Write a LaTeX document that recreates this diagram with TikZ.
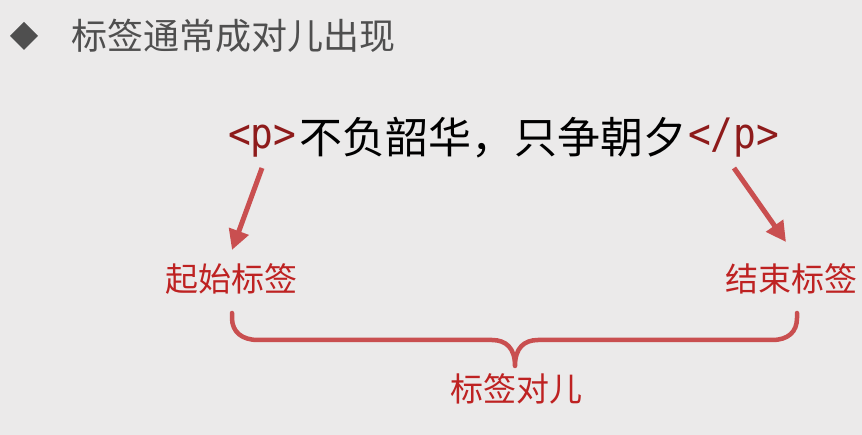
\documentclass[tikz,border=0pt]{standalone}
\usepackage{fontspec}
\newfontfamily\cjk{Noto Sans CJK SC}
\newfontfamily\codefont[FakeStretch=0.9]{DejaVu Sans Mono}
\usetikzlibrary{arrows.meta}
\definecolor{bg}{HTML}{EBEAEA}
\definecolor{titlegray}{HTML}{4F4F4F}
\definecolor{tagred}{HTML}{8E1B1B}
\definecolor{labelred}{HTML}{BE2222}
\definecolor{linered}{HTML}{C94F50}
\tikzset{
  title/.style={anchor=west, inner sep=0pt, text=titlegray, font=\cjk\fontsize{36}{42}\selectfont},
  code/.style={inner sep=0pt, text=tagred, font=\codefont\fontsize{42}{48}\selectfont},
  verse/.style={inner sep=0pt, text=black, font=\cjk\fontsize{43}{50}\selectfont},
  label/.style={inner sep=0pt, text=labelred, font=\cjk\fontsize{33}{39}\selectfont},
  pointer/.style={draw=linered, line width=5pt, -{Triangle[length=20pt,width=20pt]}},
  brace/.style={draw=linered, line width=4.5pt, line cap=round, line join=round},
}
\begin{document}
\begin{tikzpicture}[x=1pt,y=-1pt]
  \fill[bg] (0,0) rectangle (862,435);
  \useasboundingbox (0,0) rectangle (862,435);

  % heading with a diamond bullet
  \fill[titlegray] (10,36) -- (24,22) -- (38,36) -- (24,50) -- cycle;
  \node[title] (head) at (71,36) {标签通常成对儿出现};

  % the example element
  \node[code, anchor=base west] (open) at (228,149) {<p>};
  \node[verse, anchor=base west] (verse) at (299,154) {不负韶华，只争朝夕};
  \node[code, anchor=base west] (close) at (688,149) {</p>};

  % labels
  \node[label] (start) at (231,279) {起始标签};
  \node[label] (end) at (791,279) {结束标签};
  \node[label] (pair) at (516,389) {标签对儿};

  % pointers from the tags to their labels
  \coordinate (ostart) at (262,168);
  \coordinate (cstart) at (734,168);
  \coordinate (oend) at (232,250);
  \coordinate (cend) at (786,242);
  \draw[pointer] (ostart) -- (oend);
  \draw[pointer] (cstart) -- (cend);

  % brace spanning both labels
  \coordinate (bl) at (232,313);
  \coordinate (br) at (797,313);
  \coordinate (tip) at (515,366);
  \draw[brace] (bl) -- (232,318) .. controls (232,332) and (242,340) .. (258,340)
    -- (492,340) .. controls (506,340) and (515,348) .. (tip)
    .. controls (515,348) and (524,340) .. (538,340)
    -- (772,340) .. controls (788,340) and (797,332) .. (797,318) -- (br);
\end{tikzpicture}
\end{document}
